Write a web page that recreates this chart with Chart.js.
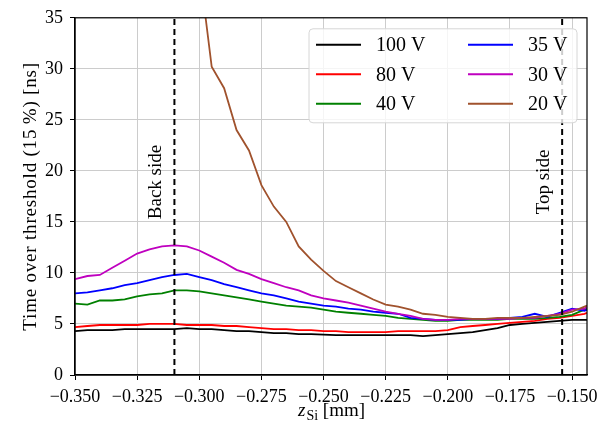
<!DOCTYPE html>
<html>
<head>
<meta charset="utf-8">
<script src="https://cdn.jsdelivr.net/npm/chart.js@4.4.1/dist/chart.umd.min.js"></script>
<style>
    html, body { margin: 0; padding: 0; background: #fff; }
    canvas { display: block; }
</style>
</head>
<body>
<canvas id="tot-chart" width="609" height="425"></canvas>
<script>
// z_Si positions [mm]
const zSi = [
    -0.350, -0.345, -0.340, -0.335, -0.330, -0.325, -0.320, -0.315, -0.310, -0.305,
    -0.300, -0.295, -0.290, -0.285, -0.280, -0.275, -0.270, -0.265, -0.260, -0.255,
    -0.250, -0.245, -0.240, -0.235, -0.230, -0.225, -0.220, -0.215, -0.210, -0.205,
    -0.200, -0.195, -0.190, -0.185, -0.180, -0.175, -0.170, -0.165, -0.160, -0.155,
    -0.150, -0.145, -0.144
];

// time over threshold [ns] per bias voltage
const tot100V = [
    4.3, 4.4, 4.4, 4.4, 4.5, 4.5, 4.5, 4.5, 4.5, 4.6,
    4.5, 4.5, 4.4, 4.3, 4.3, 4.2, 4.1, 4.1, 4.0, 4.0,
    3.95, 3.9, 3.9, 3.9, 3.9, 3.9, 3.9, 3.9, 3.8, 3.9,
    4.0, 4.1, 4.2, 4.4, 4.6, 4.9, 5.0, 5.1, 5.2, 5.3,
    5.4, 5.4, 5.4
];
const tot80V = [
    4.7, 4.8, 4.9, 4.9, 4.9, 4.9, 5.0, 5.0, 5.0, 4.9,
    4.9, 4.9, 4.8, 4.8, 4.7, 4.6, 4.5, 4.5, 4.4, 4.4,
    4.3, 4.3, 4.2, 4.2, 4.2, 4.2, 4.3, 4.3, 4.3, 4.3,
    4.4, 4.7, 4.8, 4.9, 5.0, 5.1, 5.2, 5.3, 5.5, 5.6,
    5.8, 6.0, 6.1
];
const tot40V = [
    7.0, 6.9, 7.3, 7.3, 7.4, 7.7, 7.9, 8.0, 8.3, 8.3,
    8.2, 8.0, 7.8, 7.6, 7.4, 7.2, 7.0, 6.8, 6.7, 6.6,
    6.4, 6.2, 6.1, 6.0, 5.9, 5.8, 5.6, 5.5, 5.4, 5.3,
    5.3, 5.4, 5.4, 5.4, 5.4, 5.5, 5.5, 5.5, 5.6, 5.7,
    5.9, 6.4, 6.5
];
const tot35V = [
    8.0, 8.1, 8.3, 8.5, 8.8, 9.0, 9.3, 9.6, 9.8, 9.9,
    9.6, 9.3, 8.9, 8.6, 8.3, 8.0, 7.8, 7.5, 7.2, 7.0,
    6.8, 6.7, 6.5, 6.4, 6.2, 6.1, 6.0, 5.6, 5.5, 5.4,
    5.4, 5.4, 5.5, 5.5, 5.5, 5.6, 5.7, 6.0, 5.7, 6.1,
    6.5, 6.3, 6.4
];
const tot30V = [
    9.4, 9.7, 9.8, 10.5, 11.2, 11.9, 12.3, 12.6, 12.7, 12.6,
    12.2, 11.6, 11.0, 10.3, 9.9, 9.4, 9.0, 8.6, 8.3, 7.8,
    7.5, 7.3, 7.1, 6.8, 6.5, 6.2, 6.0, 5.8, 5.5, 5.4,
    5.4, 5.5, 5.5, 5.5, 5.5, 5.5, 5.6, 5.6, 5.8, 6.0,
    6.4, 6.5, 6.7
];
const tot20V = [
    null, null, null, null, null, null, null, null, null, null,
    40.0, 30.2, 28.1, 24.0, 22.0, 18.6, 16.5, 15.0, 12.6, 11.3,
    10.2, 9.2, 8.6, 8.0, 7.4, 6.9, 6.7, 6.4, 6.0, 5.9,
    5.7, 5.6, 5.5, 5.5, 5.6, 5.6, 5.6, 5.7, 5.8, 5.9,
    6.2, 6.7, 6.8
];

const seriesLabels = ['100 V', '80 V', '40 V', '35 V', '30 V', '20 V'];
const seriesColors = ['#000000', '#ff0000', '#008000', '#0000ff', '#bf00bf', '#a0522d'];
const seriesValues = [tot100V, tot80V, tot40V, tot35V, tot30V, tot20V];

const xTicks = [-0.350, -0.325, -0.300, -0.275, -0.250, -0.225, -0.200, -0.175, -0.150];
const yTicks = [0, 5, 10, 15, 20, 25, 30, 35];

const backSideZ = -0.310;
const topSideZ = -0.154;

const serif = "'Liberation Serif', 'DejaVu Serif', serif";

function toPoints(values)
{
    let points = [];
    for( let i = 0; i < zSi.length; i++ )
    {
        points.push( { x: zSi[i], y: values[i] } );
    }
    return points;
}

function sideLine(z)
{
    return {
        label: '',
        data: [ { x: z, y: 0 }, { x: z, y: 35 } ],
        borderColor: '#000',
        borderWidth: 2,
        borderDash: [6, 4],
        pointRadius: 0,
        order: 0
    };
}

let datasets = [ sideLine(backSideZ), sideLine(topSideZ) ];
for( let i = 0; i < seriesValues.length; i++ )
{
    datasets.push( {
        label: seriesLabels[i],
        data: toPoints( seriesValues[i] ),
        borderColor: seriesColors[i],
        borderWidth: 1.8,
        pointRadius: 0,
        tension: 0,
        spanGaps: false,
        order: seriesValues.length - i
    } );
}

const decorations = {
    id: 'decorations',
    afterDraw(chart) {
        const ctx = chart.ctx;
        const area = chart.chartArea;
        const xs = chart.scales.x;

        ctx.save();

        // frame
        ctx.strokeStyle = '#000';
        ctx.lineWidth = 1.2;
        ctx.strokeRect( area.left, area.top, area.right - area.left, area.bottom - area.top );

        // side labels
        ctx.fillStyle = '#000';
        ctx.font = '19px ' + serif;
        ctx.textAlign = 'center';
        ctx.textBaseline = 'middle';
        [ [backSideZ, 'Back side'], [topSideZ, 'Top side'] ].forEach( ([z, text]) => {
            ctx.save();
            ctx.translate( xs.getPixelForValue(z) - 18, 182 );
            ctx.rotate( -Math.PI / 2 );
            ctx.fillText( text, 0, 0 );
            ctx.restore();
        } );

        // legend
        const boxLeft = area.right - 278, boxTop = area.top + 11;
        ctx.beginPath();
        ctx.roundRect( boxLeft, boxTop, 268, 94, 4 );
        ctx.fillStyle = 'rgba(255,255,255,0.8)';
        ctx.fill();
        ctx.strokeStyle = '#d6d6d6';
        ctx.lineWidth = 1;
        ctx.stroke();

        ctx.font = '20px ' + serif;
        ctx.textAlign = 'left';
        ctx.textBaseline = 'middle';
        for( let i = 0; i < seriesLabels.length; i++ )
        {
            const col = Math.floor( i / 3 );
            const row = i % 3;
            const lx = boxLeft + 7 + col * 152;
            const ly = boxTop + 16 + row * 29.5;
            ctx.strokeStyle = seriesColors[i];
            ctx.lineWidth = 2;
            ctx.beginPath();
            ctx.moveTo( lx, ly );
            ctx.lineTo( lx + 45, ly );
            ctx.stroke();
            ctx.fillStyle = '#000';
            ctx.fillText( seriesLabels[i], lx + 60, ly + 1 );
        }

        // y axis title
        ctx.save();
        ctx.translate( 31, (area.top + area.bottom) / 2 );
        ctx.rotate( -Math.PI / 2 );
        ctx.font = '19px ' + serif;
        ctx.letterSpacing = '0.8px';
        ctx.textAlign = 'center';
        ctx.textBaseline = 'middle';
        ctx.fillText( 'Time over threshold (15\u2009%) [ns]', 0, 0 );
        ctx.restore();

        // x axis title: z_Si [mm]
        ctx.textBaseline = 'alphabetic';
        ctx.textAlign = 'left';
        const partZ = 'z', partSub = 'Si', partUnit = ' [mm]';
        ctx.font = 'italic 19px ' + serif;
        const wZ = ctx.measureText( partZ ).width;
        ctx.font = '14px ' + serif;
        const wSub = ctx.measureText( partSub ).width;
        ctx.font = '19px ' + serif;
        const wUnit = ctx.measureText( partUnit ).width;
        let tx = (area.left + area.right) / 2 - (wZ + wSub + wUnit) / 2;
        const ty = 416;
        ctx.font = 'italic 19px ' + serif;
        ctx.fillText( partZ, tx, ty );
        tx += wZ + 1;
        ctx.font = '14px ' + serif;
        ctx.fillText( partSub, tx, ty + 4 );
        tx += wSub;
        ctx.font = '19px ' + serif;
        ctx.fillText( partUnit, tx, ty );

        ctx.restore();
    }
};

document.addEventListener('DOMContentLoaded', function(){

    const ctxTot = document.getElementById('tot-chart').getContext('2d');
    new Chart( ctxTot, {
        type: 'line',
        data: { datasets },
        options: {
            responsive: false,
            animation: false,
            devicePixelRatio: 1,
            layout: { padding: { top: 12, right: 22, left: 0, bottom: 0 } },
            plugins: {
                legend: { display: false },
                tooltip: { enabled: false }
            },
            scales: {
                x: {
                    type: 'linear',
                    min: -0.350,
                    max: -0.144,
                    afterBuildTicks: scale => { scale.ticks = xTicks.map( v => ( { value: v } ) ); },
                    afterFit: scale => { scale.height = 50; },
                    ticks: {
                        color: '#000',
                        font: { family: serif, size: 18 },
                        padding: 6,
                        maxRotation: 0,
                        autoSkip: false,
                        callback: v => v.toFixed(3).replace('-', '\u2212')
                    },
                    grid: { color: '#cccccc', lineWidth: 1, tickColor: '#000', tickLength: 5 },
                    border: { color: '#000', width: 1.2 }
                },
                y: {
                    min: 0,
                    max: 35,
                    afterBuildTicks: scale => { scale.ticks = yTicks.map( v => ( { value: v } ) ); },
                    afterFit: scale => { scale.width = 75; },
                    ticks: {
                        color: '#000',
                        font: { family: serif, size: 18 },
                        padding: 7
                    },
                    grid: { color: '#cccccc', lineWidth: 1, tickColor: '#000', tickLength: 5 },
                    border: { color: '#000', width: 1.2 }
                }
            }
        },
        plugins: [ decorations ]
    });

});
</script>
</body>
</html>
